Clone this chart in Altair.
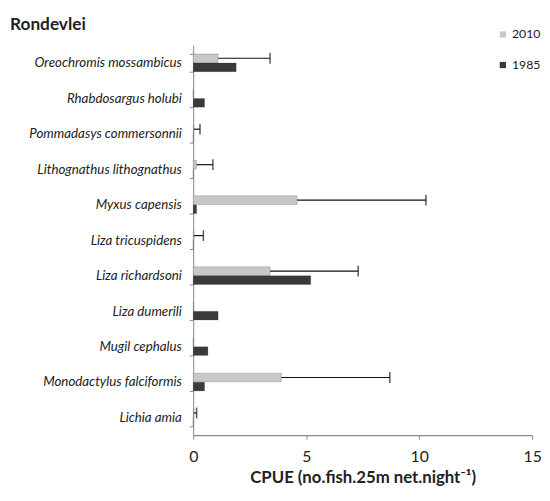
import altair as alt
import pandas as pd

species = [
    "Oreochromis mossambicus",
    "Rhabdosargus holubi",
    "Pommadasys commersonnii",
    "Lithognathus lithognathus",
    "Myxus capensis",
    "Liza tricuspidens",
    "Liza richardsoni",
    "Liza dumerili",
    "Mugil cephalus",
    "Monodactylus falciformis",
    "Lichia amia",
]
years = ["2010", "1985"]
cpue_2010 = [1.1, 0.0, 0.03, 0.15, 4.6, 0.03, 3.4, 0.02, 0.0, 3.9, 0.03]
err_2010 = [2.3, 0.0, 0.27, 0.72, 5.7, 0.42, 3.9, 0.0, 0.0, 4.8, 0.12]
cpue_1985 = [1.9, 0.5, 0.0, 0.0, 0.15, 0.0, 5.2, 1.1, 0.65, 0.5, 0.0]
title_text = ["Rondevlei"]

rows = []
for i, s in enumerate(species):
    rows.append({"species": s, "year": "2010", "value": cpue_2010[i],
                 "err": err_2010[i], "hi": cpue_2010[i] + err_2010[i]})
    rows.append({"species": s, "year": "1985", "value": cpue_1985[i],
                 "err": 0.0, "hi": cpue_1985[i]})
df = pd.DataFrame(rows)

FONT = "Lato"

yscale = alt.Scale(domain=species, paddingInner=0.5, paddingOuter=0.25)
xscale = alt.Scale(domain=[0, 15], nice=False, zero=True)

y_enc = alt.Y(
    "species:N", sort=species, scale=yscale,
    axis=alt.Axis(title=None, labelFont=FONT, labelFontStyle="italic",
                  labelFontSize=13.5, labelColor="#222", tickBand="extent",
                  domainColor="#888", tickColor="#888", tickSize=4,
                  labelPadding=8),
)
yoff = alt.YOffset("year:N", sort=years, scale=alt.Scale(domain=years, paddingInner=0.05))
x_enc = alt.X(
    "value:Q", scale=xscale,
    axis=alt.Axis(values=[0, 5, 10, 15], grid=False, labelFont=FONT,
                  labelFontSize=16, labelColor="#222", labelPadding=10,
                  labelFlush=False,
                  tickSize=4, tickColor="#888", domainColor="#666",
                  title="CPUE (no.fish.25m net.night⁻¹)", titleFont=FONT,
                  titleFontSize=17, titleFontWeight="bold", titleColor="#222",
                  titlePadding=5),
)

bars = alt.Chart(df).mark_bar(stroke="#222", strokeWidth=0.4, strokeOpacity=0.5).encode(
    y=y_enc, yOffset=yoff, x=x_enc,
    color=alt.Color("year:N",
                    scale=alt.Scale(domain=years, range=["#c8c8c8", "#3a3a3a"]),
                    legend=alt.Legend(title=None, orient="none", legendX=308,
                                      legendY=-17, symbolType="square",
                                      symbolSize=40, labelFont=FONT,
                                      labelFontSize=12.5, labelColor="#222",
                                      labelOffset=3,
                                      rowPadding=18, symbolStrokeWidth=0)),
)

err_base = alt.Chart(df).transform_filter("datum.err > 0")
rules = err_base.mark_rule(color="#111", strokeWidth=1.2).encode(
    y=alt.Y("species:N", sort=species, scale=yscale), yOffset=yoff,
    x=alt.X("value:Q", scale=xscale), x2="hi:Q",
)
caps = err_base.mark_tick(color="#111", thickness=1.5, size=11, orient="vertical").encode(
    y=alt.Y("species:N", sort=species, scale=yscale), yOffset=yoff,
    x=alt.X("hi:Q", scale=xscale),
)

title = alt.Chart(pd.DataFrame({"t": title_text})).mark_text(
    font=FONT, fontSize=17.5, fontWeight="bold", color="#222",
    align="left", baseline="middle",
).encode(text="t:N", x=alt.value(-186), y=alt.value(-20))

chart = alt.layer(bars, rules, caps, title).properties(
    width=344, height=396,
    autosize=alt.AutoSizeParams(type="none"),
    padding={"left": 188, "top": 34, "right": 10, "bottom": 55},
    background="white",
).configure_view(stroke=None)

chart.save("out.html", embed_options={"renderer": "svg", "actions": False})
